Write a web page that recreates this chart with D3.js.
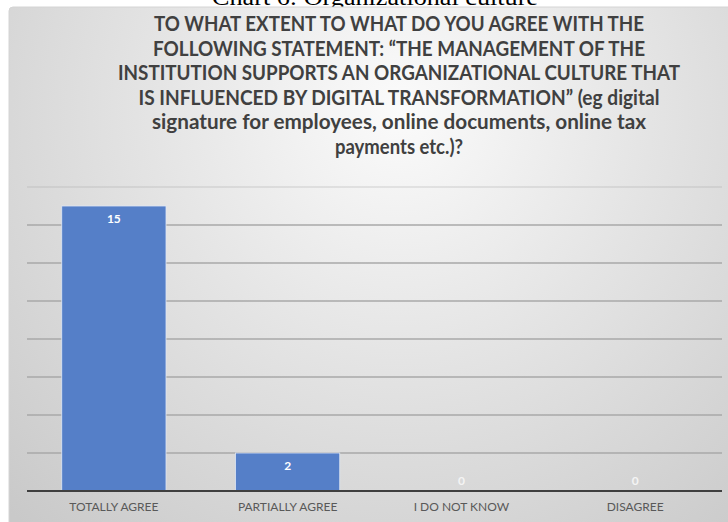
<!DOCTYPE html>
<html>
<head>
<meta charset="utf-8">
<script src="https://cdn.jsdelivr.net/npm/d3@7"></script>
<style>
  html, body { margin: 0; padding: 0; background: #ffffff; }
  svg { display: block; }
</style>
</head>
<body>
<script>
// Survey answers and the number of respondents for each
const categories = ["TOTALLY AGREE", "PARTIALLY AGREE", "I DO NOT KNOW", "DISAGREE"];
const counts = [15, 2, 0, 0];
const gridTicks = [2, 4, 6, 8, 10, 12, 14, 16];

const captionText = "Chart 6: Organizational culture";
const titleLines = [
  "TO WHAT EXTENT TO WHAT DO YOU AGREE WITH THE",
  "FOLLOWING STATEMENT: \u201CTHE MANAGEMENT OF THE",
  "INSTITUTION SUPPORTS AN ORGANIZATIONAL CULTURE THAT",
  "IS INFLUENCED BY DIGITAL TRANSFORMATION\u201D (eg digital",
  "signature for employees, online documents, online tax",
  "payments etc.)?"
];
// widths each title line occupies
const titleWidths = [490, 492, 562, 521, 494, 128];

const W = 728, H = 522;
const svg = d3.select("body").append("svg").attr("width", W).attr("height", H);

// caption above the chart frame (partly hidden by the frame)
svg.append("text")
  .attr("x", 375).attr("y", 5)
  .attr("text-anchor", "middle")
  .attr("font-family", "'Liberation Serif', 'Times New Roman', serif")
  .attr("font-size", 24)
  .attr("fill", "#000")
  .attr("textLength", 326)
  .attr("lengthAdjust", "spacingAndGlyphs")
  .text(captionText);

// frame background gradient
const defs = svg.append("defs");
const grad = defs.append("radialGradient")
  .attr("id", "bg").attr("gradientUnits", "userSpaceOnUse")
  .attr("cx", 400).attr("cy", 110).attr("r", 560)
  .attr("fx", 400).attr("fy", 110);
grad.append("stop").attr("offset", "0%").attr("stop-color", "#fbfbfb");
grad.append("stop").attr("offset", "45%").attr("stop-color", "#e4e4e4");
grad.append("stop").attr("offset", "100%").attr("stop-color", "#c9c9c9");

svg.append("rect")
  .attr("x", 9).attr("y", 7).attr("width", W - 9 + 6).attr("height", H - 7 + 6)
  .attr("rx", 4)
  .attr("fill", "url(#bg)")
  .attr("stroke", "#d4d4d4").attr("stroke-width", 1);

// title
const titleG = svg.append("g")
  .attr("font-family", "Lato, 'Open Sans', sans-serif")
  .attr("font-weight", "bold")
  .attr("font-size", 21)
  .attr("fill", "#404040")
  .attr("text-anchor", "middle");
titleLines.forEach((line, i) => {
  titleG.append("text")
    .attr("x", 399)
    .attr("y", 31 + i * 24.5)
    .attr("textLength", titleWidths[i])
    .attr("lengthAdjust", "spacingAndGlyphs")
    .text(line);
});

// scales
const x = d3.scaleBand().domain(categories).range([27, 722])
  .paddingInner(0.4).paddingOuter(0.2);
const y = d3.scaleLinear().domain([0, 16]).range([491, 187]);

// horizontal gridlines
svg.append("g")
  .selectAll("line")
  .data(gridTicks)
  .join("line")
  .attr("x1", 27).attr("x2", 722)
  .attr("y1", d => y(d)).attr("y2", d => y(d))
  .attr("stroke", "#a8a8a8")
  .attr("stroke-opacity", d => d === 16 ? 0.35 : 1)
  .attr("stroke-width", 1.3);

// bars
svg.append("g")
  .selectAll("rect")
  .data(counts)
  .join("rect")
  .attr("x", (d, i) => x(categories[i]))
  .attr("y", d => y(d))
  .attr("width", x.bandwidth())
  .attr("height", d => y(0) - y(d))
  .attr("fill", "#557fc8")
  .attr("stroke", "#dfe7f4")
  .attr("stroke-width", d => d > 0 ? 0.8 : 0);

// baseline axis
const axis = d3.axisBottom(x).tickSize(0).tickPadding(11);
const axisG = svg.append("g")
  .attr("transform", `translate(0,${y(0)})`)
  .call(axis);
axisG.select(".domain")
  .attr("stroke", "#3f3f3f").attr("stroke-width", 2.2)
  .attr("d", "M27,0H722");
axisG.selectAll(".tick text")
  .attr("font-family", "Lato, 'Open Sans', sans-serif")
  .attr("font-size", 12)
  .attr("fill", "#595959");

// value labels
svg.append("g")
  .selectAll("text")
  .data(counts)
  .join("text")
  .attr("x", (d, i) => x(categories[i]) + x.bandwidth() / 2)
  .attr("y", d => d > 0 ? y(d) + 17 : y(0) - 6)
  .attr("text-anchor", "middle")
  .attr("font-family", "Lato, 'Open Sans', sans-serif")
  .attr("font-weight", "bold")
  .attr("font-size", 12)
  .attr("fill", d => d > 0 ? "#ffffff" : "#f4f4f4")
  .text(d => d);
</script>
</body>
</html>
